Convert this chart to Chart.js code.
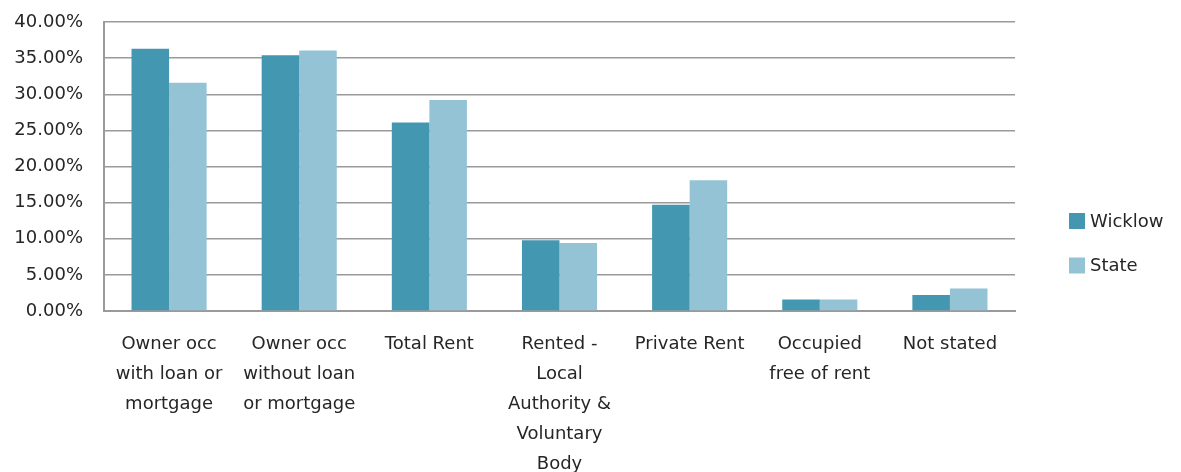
<!DOCTYPE html>
<html>
<head>
<meta charset="utf-8">
<script src="https://cdn.jsdelivr.net/npm/chart.js@4.4.0/dist/chart.umd.min.js"></script>
<style>
html,body{margin:0;padding:0;background:#fff;}
#wrap{width:1181px;height:472px;position:relative;}
</style>
</head>
<body>
<div id="wrap"><canvas id="c" width="1181" height="472"></canvas></div>
<script>
const categories = [
  ["Owner occ", "with loan or", "mortgage"],
  ["Owner occ", "without loan", "or mortgage"],
  ["Total Rent"],
  ["Rented -", "Local", "Authority &", "Voluntary", "Body"],
  ["Private Rent"],
  ["Occupied", "free of rent"],
  ["Not stated"]
];
const wicklow = [36.3, 35.4, 26.1, 9.8, 14.7, 1.6, 2.2];
const state = [31.6, 36.05, 29.2, 9.4, 18.1, 1.6, 3.1];
const yTicks = [0, 5, 10, 15, 20, 25, 30, 35, 40];

const FONT = "'DejaVu Sans', sans-serif";
const TEXT = '#262626';
const GRID = '#9a9a9a';

const legendPlugin = {
  id: 'sideLegend',
  afterDraw(chart) {
    const ctx = chart.ctx;
    const items = [[221, 0], [265.5, 1]];
    ctx.save();
    ctx.font = '18px ' + FONT;
    ctx.textBaseline = 'middle';
    ctx.textAlign = 'left';
    items.forEach(([y, i]) => {
      const ds = chart.data.datasets[i];
      ctx.fillStyle = ds.backgroundColor;
      ctx.fillRect(1069, y - 8, 16, 16);
      ctx.fillStyle = TEXT;
      ctx.fillText(ds.label, 1090, y + 1);
    });
    ctx.restore();
  }
};

new Chart(document.getElementById('c'), {
  type: 'bar',
  data: {
    labels: categories,
    datasets: [
      { label: 'Wicklow', data: wicklow, backgroundColor: '#4397b0', barPercentage: 1, categoryPercentage: 0.577 },
      { label: 'State', data: state, backgroundColor: '#94c3d5', barPercentage: 1, categoryPercentage: 0.577 }
    ]
  },
  options: {
    responsive: false,
    animation: false,
    layout: { padding: { top: 22, right: 166, left: 0, bottom: 0 } },
    plugins: { legend: { display: false }, tooltip: { enabled: false } },
    scales: {
      x: {
        grid: { display: false, drawTicks: false },
        border: { display: true, color: GRID, width: 2 },
        ticks: {
          color: TEXT, font: { family: FONT, size: 18, lineHeight: 1.667 },
          padding: 18, autoSkip: false, maxRotation: 0, minRotation: 0
        },
        afterFit(s) { s.height = 161; s.paddingLeft = 0; s.paddingRight = 0; }
      },
      y: {
        min: 0, max: 40,
        afterBuildTicks(s) { s.ticks = yTicks.map(v => ({ value: v })); },
        grid: { color: GRID, lineWidth: 1.5, drawTicks: false },
        border: { display: true, color: GRID, width: 2 },
        ticks: {
          color: TEXT, font: { family: FONT, size: 18 }, padding: 21,
          callback: v => v.toFixed(2) + '%'
        },
        afterFit(s) { s.width = 104; s.paddingTop = 0; s.paddingBottom = 0; }
      }
    }
  },
  plugins: [legendPlugin]
});
</script>
</body>
</html>
